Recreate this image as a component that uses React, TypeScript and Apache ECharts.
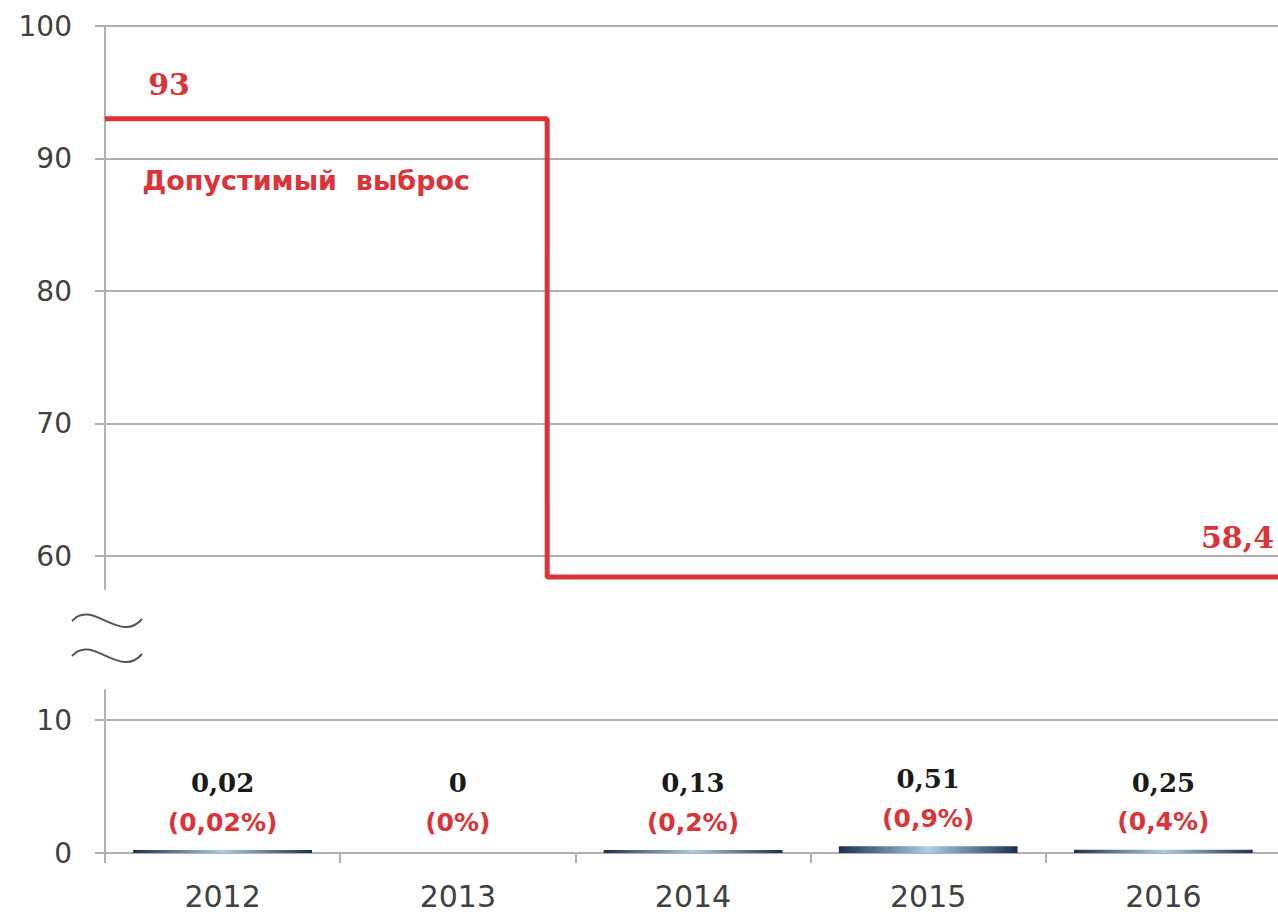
import React, { useEffect, useRef } from "react";
import * as echarts from "echarts";

// ---- data ----
const years = ["2012", "2013", "2014", "2015", "2016"];
const emissions = [0.02, 0, 0.13, 0.51, 0.25];
const shares = ["0,02%", "0%", "0,2%", "0,9%", "0,4%"];
// permissible emission (step line), x in category units from the axis start
const limitX = [0, 1.88, 1.88, 5];
const limitY = [93, 93, 58.4, 58.4];
const limitName = "Допустимый  выброс";
const upperTicks = [60, 100];
const lowerTicks = [0, 10];

const RED = "#dc3338";
const GREY = "#b0b0b0";
const TXT = "#404040";

const fmt = (v: number) => String(v).replace(".", ",");

export default function App() {
  const ref = useRef<HTMLDivElement>(null);
  useEffect(() => {
    if (!ref.current) return;
    const chart = echarts.init(ref.current, undefined, { renderer: "svg" });
    const L = 105;
    const W = 1176;
    const option: any = {
      animation: false,
      grid: [
        { left: L, top: 26, width: W, height: 530 },
        { left: L, top: 26, width: W, height: 563 },
        { left: L, top: 720, width: W, height: 133 },
        { left: L, top: 690, width: W, height: 163 },
      ],
      xAxis: [
        { gridIndex: 0, type: "category", data: years, show: false },
        { gridIndex: 1, type: "value", min: 0, max: 5, show: false },
        {
          gridIndex: 2,
          type: "category",
          data: years,
          axisLine: { show: true, lineStyle: { color: GREY, width: 2 } },
          axisTick: { show: true, length: 10, lineStyle: { color: GREY, width: 2 } },
          axisLabel: { fontSize: 30, color: TXT, fontFamily: "DejaVu Sans", margin: 28 },
        },
        { gridIndex: 3, type: "value", min: 0, max: 1, show: false },
      ],
      yAxis: [
        {
          gridIndex: 0,
          type: "value",
          min: upperTicks[0],
          max: upperTicks[1],
          interval: 10,
          axisLine: { show: false },
          axisTick: { show: true, length: 10, lineStyle: { color: GREY, width: 2 } },
          axisLabel: { fontSize: 28, color: TXT, fontFamily: "DejaVu Sans", margin: 33 },
          splitLine: { show: true, lineStyle: { color: GREY, width: 2 } },
        },
        {
          gridIndex: 1,
          type: "value",
          min: 57.5,
          max: 100,
          axisLine: { show: true, lineStyle: { color: GREY, width: 2 } },
          axisTick: { show: false },
          axisLabel: { show: false },
          splitLine: { show: false },
        },
        {
          gridIndex: 2,
          type: "value",
          min: lowerTicks[0],
          max: lowerTicks[1],
          interval: 10,
          axisLine: { show: false },
          axisTick: { show: true, length: 10, lineStyle: { color: GREY, width: 2 } },
          axisLabel: { fontSize: 28, color: TXT, fontFamily: "DejaVu Sans", margin: 33 },
          splitLine: { show: true, lineStyle: { color: GREY, width: 2 } },
        },
        {
          gridIndex: 3,
          type: "value",
          min: 0,
          max: 1,
          axisLine: { show: true, lineStyle: { color: GREY, width: 2 } },
          axisTick: { show: false },
          axisLabel: { show: false },
          splitLine: { show: false },
        },
      ],
      series: [
        {
          type: "line",
          xAxisIndex: 1,
          yAxisIndex: 1,
          symbol: "circle",
          symbolSize: 0,
          lineStyle: { color: RED, width: 5 },
          itemStyle: { color: RED },
          data: limitX.map((x, i) => {
            const item: any = { value: [x, limitY[i]] };
            if (i === 0) {
              item.label = {
                show: true,
                formatter: fmt(limitY[i]),
                position: [64, -34],
                align: "center",
                verticalAlign: "middle",
                color: RED,
                fontFamily: "DejaVu Serif",
                fontWeight: "bold",
                fontSize: 30,
              };
            } else if (i === 1) {
              item.label = {
                show: true,
                formatter: limitName,
                position: [-405, 62],
                align: "left",
                verticalAlign: "middle",
                color: RED,
                fontFamily: "DejaVu Sans",
                fontWeight: "bold",
                fontSize: 27,
              };
            } else if (i === 3) {
              item.label = {
                show: true,
                formatter: fmt(limitY[i]),
                position: [-80, -40],
                align: "left",
                verticalAlign: "middle",
                color: RED,
                fontFamily: "DejaVu Serif",
                fontWeight: "bold",
                fontSize: 30,
              };
            }
            return item;
          }),
        },
        {
          type: "bar",
          xAxisIndex: 2,
          yAxisIndex: 2,
          barWidth: "76%",
          barMinHeight: 3,
          itemStyle: {
            color: new echarts.graphic.LinearGradient(0, 0, 1, 0, [
              { offset: 0, color: "#1b3050" },
              { offset: 0.5, color: "#a9cdea" },
              { offset: 1, color: "#1b3050" },
            ]),
          },
          label: {
            show: true,
            position: "top",
            distance: 11,
            formatter: (p: any) => `{a|${fmt(p.value)}}\n{b|(${shares[p.dataIndex]})}`,
            rich: {
              a: { fontFamily: "DejaVu Serif", fontWeight: "bold", fontSize: 26, color: "#1a1a1a", lineHeight: 44 },
              b: { fontFamily: "DejaVu Sans", fontWeight: "bold", fontSize: 25, color: RED, lineHeight: 34 },
            },
          },
          data: emissions.map((v) =>
            v === 0 ? { value: v, itemStyle: { color: "rgba(0,0,0,0)" } } : v
          ),
        },
      ],
      graphic: [0, 35].map((dy) => ({
        type: "bezierCurve",
        shape: { x1: 72, y1: 621 + dy, cpx1: 92, cpy1: 598 + dy, cpx2: 120, cpy2: 645 + dy, x2: 142, y2: 619 + dy },
        style: { stroke: "#555555", lineWidth: 2, fill: null },
      })),
    };
    chart.setOption(option);
    return () => chart.dispose();
  }, []);
  return (
    <div style={{ position: "fixed", left: 0, top: 0, width: 1278, height: 917, overflow: "hidden", background: "#fff" }}>
      <div ref={ref} style={{ width: 1300, height: 917 }} />
    </div>
  );
}
